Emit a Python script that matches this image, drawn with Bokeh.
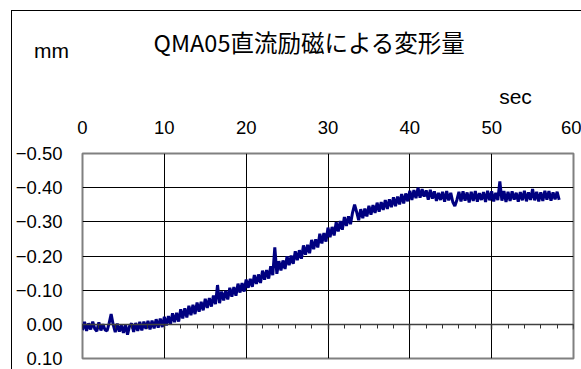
from bokeh.plotting import figure
from bokeh.layouts import column
from bokeh.models import Range1d, FixedTicker, LinearAxis, Label, SingleIntervalTicker
from bokeh.embed import file_html
from bokeh.resources import INLINE
import numpy as np

# Displacement record, sampled every 0.25 s (mm; negative = extension)
sample_step = 0.25
displacement = [
    0.017, -0.007, 0.019, -0.003,
    0.015, -0.008, 0.013, 0.020,
    -0.006, 0.018, 0.000, 0.016,
    0.019, -0.003, -0.030, 0.001,
    0.023, -0.002, 0.021, 0.003,
    0.025, 0.001, 0.030, 0.005,
    -0.003, 0.022, -0.004, 0.019,
    -0.007, 0.018, -0.008, 0.013,
    -0.010, 0.015, -0.011, 0.012,
    -0.015, 0.010, -0.017, 0.008,
    -0.022, 0.003, -0.024, 0.000,
    -0.032, -0.006, -0.034, -0.008,
    -0.044, -0.017, -0.047, -0.020,
    -0.054, -0.027, -0.057, -0.030,
    -0.064, -0.037, -0.066, -0.041,
    -0.075, -0.048, -0.077, -0.052,
    -0.084, -0.059, -0.115, -0.062,
    -0.096, -0.070, -0.098, -0.073,
    -0.107, -0.081, -0.109, -0.084,
    -0.119, -0.093, -0.121, -0.096,
    -0.131, -0.107, -0.133, -0.110,
    -0.144, -0.118, -0.146, -0.121,
    -0.157, -0.131, -0.159, -0.134,
    -0.170, -0.144, -0.225, -0.148,
    -0.185, -0.158, -0.187, -0.162,
    -0.199, -0.173, -0.201, -0.177,
    -0.214, -0.188, -0.217, -0.192,
    -0.231, -0.204, -0.233, -0.208,
    -0.247, -0.220, -0.249, -0.225,
    -0.265, -0.237, -0.267, -0.242,
    -0.283, -0.255, -0.285, -0.260,
    -0.299, -0.272, -0.302, -0.277,
    -0.314, -0.288, -0.316, -0.293,
    -0.327, -0.350, -0.329, -0.305,
    -0.337, -0.311, -0.339, -0.316,
    -0.347, -0.321, -0.349, -0.326,
    -0.356, -0.330, -0.358, -0.335,
    -0.364, -0.338, -0.366, -0.343,
    -0.372, -0.346, -0.374, -0.351,
    -0.381, -0.354, -0.383, -0.360,
    -0.391, -0.364, -0.393, -0.369,
    -0.400, -0.371, -0.396, -0.374,
    -0.392, -0.365, -0.394, -0.368,
    -0.389, -0.361, -0.385, -0.364,
    -0.388, -0.359, -0.390, -0.363,
    -0.385, -0.358, -0.346, -0.364,
    -0.388, -0.360, -0.389, -0.362,
    -0.386, -0.357, -0.388, -0.361,
    -0.390, -0.359, -0.384, -0.364,
    -0.387, -0.358, -0.391, -0.363,
    -0.389, -0.360, -0.385, -0.364,
    -0.418, -0.362, -0.390, -0.358,
    -0.388, -0.361, -0.389, -0.365,
    -0.385, -0.359, -0.387, -0.363,
    -0.391, -0.360, -0.386, -0.364,
    -0.396, -0.363, -0.388, -0.360,
    -0.386, -0.361, -0.391, -0.365,
    -0.390, -0.362, -0.386, -0.366,
    -0.388, -0.364,
]
time_s = np.arange(len(displacement)) * sample_step

x_ticks = [0, 10, 20, 30, 40, 50, 60]
y_ticks = [-0.5, -0.4, -0.3, -0.2, -0.1, 0.0, 0.1]
y_tick_labels = ["\u22120.50", "\u22120.40", "\u22120.30", "\u22120.20", "\u22120.10", "0.00", "0.10"]

title_text = "QMA05直流励磁による変形量"
y_unit = "mm"
x_unit = "sec"

NUM_FONT = "Liberation Sans"
CJK_FONT = "Noto Sans CJK JP"

p = figure(
    width=569, height=358,
    x_range=Range1d(0, 60), y_range=Range1d(0.1, -0.5),
    x_axis_location="above", title_location=None,
    output_backend="svg", toolbar_location=None,
    min_border_left=70, min_border_right=8, min_border_top=142, min_border_bottom=11,
    background_fill_color="white", border_fill_color="white",
    outline_line_color="#808080", outline_line_width=2,
)

# top time axis: labels only
xa = p.xaxis[0]
xa.ticker = FixedTicker(ticks=x_ticks)
xa.axis_line_color = None
xa.major_tick_line_color = None
xa.minor_tick_line_color = None
xa.major_tick_out = 0
xa.major_tick_in = 0
xa.minor_tick_out = 0
xa.minor_tick_in = 0
xa.major_label_standoff = 20
xa.major_label_text_font = NUM_FONT
xa.major_label_text_font_size = "18.5px"
xa.major_label_text_color = "black"

# left displacement axis
ya = p.yaxis[0]
ya.ticker = FixedTicker(ticks=y_ticks)
ya.major_label_overrides = {v: s for v, s in zip(y_ticks, y_tick_labels)}
ya.axis_line_color = None
ya.major_tick_line_color = None
ya.minor_tick_line_color = None
ya.major_tick_out = 0
ya.major_tick_in = 0
ya.minor_tick_out = 0
ya.minor_tick_in = 0
ya.major_label_standoff = 20
ya.major_label_text_font = NUM_FONT
ya.major_label_text_font_size = "18.5px"
ya.major_label_text_color = "black"

# zero line with downward ticks every 2 s
zero_axis = LinearAxis(
    fixed_location=0,
    ticker=SingleIntervalTicker(interval=10, num_minor_ticks=5),
    axis_line_color="#404040", axis_line_width=1.5,
    major_tick_in=0, major_tick_out=5, major_tick_line_color="#303030", major_tick_line_width=1.5,
    minor_tick_in=0, minor_tick_out=4, minor_tick_line_color="#303030", minor_tick_line_width=1,
    major_label_text_font_size="0px", major_label_text_color=None, major_label_standoff=0,
)
p.add_layout(zero_axis, "below")

p.xgrid.ticker = FixedTicker(ticks=x_ticks)
p.ygrid.ticker = FixedTicker(ticks=y_ticks)
p.xgrid.grid_line_color = "black"
p.ygrid.grid_line_color = "black"
p.xgrid.grid_line_width = 1
p.ygrid.grid_line_width = 1

p.line(time_s, displacement, line_color="#000080", line_width=3)

# chart title and unit captions sit above the plot area (placed in data units)
p.add_layout(Label(x=27.74, y=-0.825, text=title_text, text_align="center",
                   text_baseline="alphabetic", text_font=CJK_FONT,
                   text_font_size="23.5px", text_color="black"), "above")
p.add_layout(Label(x=-3.79, y=-0.8014, text=y_unit, text_align="center",
                   text_baseline="alphabetic", text_font=NUM_FONT,
                   text_font_size="21px", text_color="black"), "above")
p.add_layout(Label(x=52.91, y=-0.6668, text=x_unit, text_align="center",
                   text_baseline="alphabetic", text_font=NUM_FONT,
                   text_font_size="21px", text_color="black"), "above")

layout = column(
    p,
    styles={"margin-left": "11px", "margin-top": "10px",
            "border-left": "1px solid #000", "border-top": "1px solid #000"},
)

open("out.html", "w").write(file_html(layout, INLINE))
